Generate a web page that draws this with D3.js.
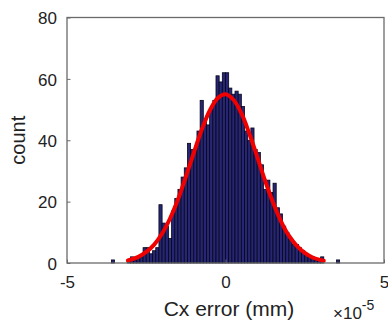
<!DOCTYPE html>
<html>
<head>
<meta charset="utf-8">
<script src="https://cdn.jsdelivr.net/npm/d3@7"></script>
<style>
  html, body { margin: 0; padding: 0; background: #fff; }
  svg { display: block; }
  text { font-family: "Liberation Sans", Arial, Helvetica, sans-serif; fill: #222; }
</style>
</head>
<body>
<svg id="chart" width="388" height="324"></svg>
<script>
// ---- data (x in units of 1e-5 mm) ----
const binStart = -3.6;
const binWidth = 0.1;
const counts = [
  1, 0, 0, 0, 0, 1, 2, 1, 2, 2,
  5, 5, 3, 4, 5, 19, 13, 12, 8, 17,
  21, 24, 28, 31, 39, 37, 37, 43, 53, 46,
  45, 50, 53, 61, 59, 62, 62, 57, 55, 56,
  55, 51, 43, 40, 44, 37, 36, 32, 24, 27,
  23, 26, 18, 16, 12, 10, 8, 6, 6, 5,
  4, 3, 2, 2, 1, 1, 2, 0, 0, 0,
  0, 1
];
const fitX = [-3.08, -2.75, -2.5, -2.25, -2.0, -1.75, -1.5, -1.25, -1.0, -0.75, -0.5, -0.25, 0.0,
              0.25, 0.5, 0.75, 1.0, 1.25, 1.5, 1.75, 2.0, 2.25, 2.5, 2.75, 3.1];
const fitY = [0.85, 2.0, 3.6, 6.0, 9.6, 14.5, 20.7, 28.1, 35.9, 43.4, 49.6, 53.7, 55.0,
              53.2, 48.8, 42.2, 34.6, 26.8, 19.7, 13.6, 8.9, 5.6, 3.3, 1.8, 0.75];
const xTicks = [-5, 0, 5];
const yTicks = [0, 20, 40, 60, 80];
const xLabel = "Cx error (mm)";
const yLabel = "count";

// ---- layout ----
const L = 67, R = 384, T = 17.5, B = 263;
const svg = d3.select("#chart");
const x = d3.scaleLinear().domain([-5, 5]).range([L, R]);
const y = d3.scaleLinear().domain([0, 80]).range([B, T]);

const bins = counts.map((c, i) => ({ x0: binStart + i * binWidth, x1: binStart + (i + 1) * binWidth, c }));

// bars
svg.append("g").selectAll("rect").data(bins.filter(d => d.c > 0)).join("rect")
  .attr("x", d => x(d.x0))
  .attr("width", d => x(d.x1) - x(d.x0))
  .attr("y", d => y(d.c))
  .attr("height", d => y(0) - y(d.c))
  .attr("fill", "#262674")
  .attr("stroke", "#05051a")
  .attr("stroke-width", 0.8);

// fit curve
const pts = fitX.map((v, i) => [v, fitY[i]]);
svg.append("path")
  .datum(pts)
  .attr("fill", "none")
  .attr("stroke", "#f00000")
  .attr("stroke-width", 4)
  .attr("stroke-linecap", "round")
  .attr("d", d3.line().x(d => x(d[0])).y(d => y(d[1])).curve(d3.curveCatmullRom));

// axes (inward ticks)
const axisColor = "#6a6a6a";
const yAxis = svg.append("g").attr("transform", `translate(${L},0)`)
  .call(d3.axisLeft(y).tickValues(yTicks).tickSize(-3.5).tickPadding(10));
const xAxis = svg.append("g").attr("transform", `translate(0,${B})`)
  .call(d3.axisBottom(x).tickValues(xTicks).tickSize(-3.5).tickPadding(13)
    .tickFormat(d => d < 0 ? "-" + Math.abs(d) : String(d)));
[xAxis, yAxis].forEach(g => {
  g.select(".domain").remove();
  g.selectAll(".tick line").attr("stroke", axisColor).attr("stroke-width", 1);
  g.selectAll(".tick text").style("font-size", "17px").attr("fill", "#222")
    .style("font-family", "'Liberation Sans', Arial, Helvetica, sans-serif");
});
yAxis.selectAll(".tick text").attr("dy", "0.36em");

// box
svg.append("rect").attr("x", L).attr("y", T).attr("width", R - L).attr("height", B - T)
  .attr("fill", "none").attr("stroke", axisColor).attr("stroke-width", 1.3);

// labels
svg.append("text").attr("x", 229).attr("y", 316)
  .attr("text-anchor", "middle").style("font-size", "21px").text(xLabel);
svg.append("text").attr("transform", `translate(25,${(T + B) / 2}) rotate(-90)`)
  .attr("text-anchor", "middle").style("font-size", "20px").text(yLabel);

const mult = svg.append("text").attr("x", 333).attr("y", 319).style("font-size", "17px");
mult.append("tspan").text("×10");
mult.append("tspan").attr("dy", -9).style("font-size", "14px").text("-5");
</script>
</body>
</html>
